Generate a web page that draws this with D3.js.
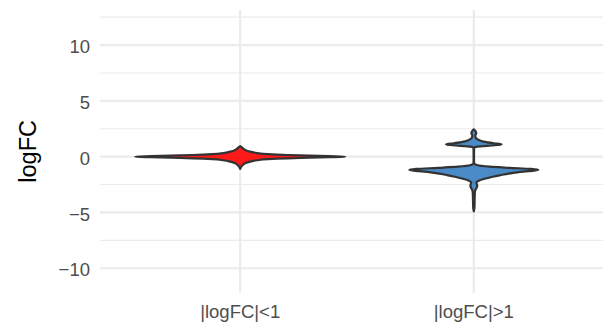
<!DOCTYPE html>
<html>
<head>
<meta charset="utf-8">
<script src="https://cdn.jsdelivr.net/npm/d3@7"></script>
<style>
  html, body { margin: 0; padding: 0; background: #fff; }
  svg { display: block; }
</style>
</head>
<body>
<svg id="chart" width="603" height="323"></svg>
<script>
// ---- data ----
const categories = ["|logFC|<1", "|logFC|>1"];
const fillColors = ["#FF1A1A", "#4A8AC6"];
const yTicks = [-10, -5, 0, 5, 10];
const yMinorTicks = [-7.5, -2.5, 2.5, 7.5, 12.5];

// violin profiles: logFC grid and relative density
const lowLogFC =     [0.95, 0.8, 0.6, 0.45, 0.32, 0.22, 0.15, 0.1, 0.05, 0, -0.05, -0.1, -0.15, -0.22, -0.32, -0.45, -0.6, -0.8, -1.1];
const lowDensity =   [0, 2, 5, 10, 17, 28, 48, 70, 90, 106, 90, 70, 48, 28, 17, 10, 5, 2, 0];

const highLogFC =    [2.45, 2.3, 2.1, 1.9, 1.7, 1.5, 1.35, 1.2, 1.1, 1.0, 0.93, 0.87, 0.8, 0, -0.6, -0.75, -0.9, -1.0, -1.1, -1.2, -1.3, -1.45, -1.65, -1.85, -2.0, -2.15, -2.3, -2.45, -2.6, -2.8, -3.0, -3.3, -4.0, -4.6, -4.9];
const highDensity =  [0, 1.5, 2.5, 1.5, 2, 5, 10, 20, 28, 18, 8, 2, 0.3, 0.2, 0.3, 3, 16, 36, 58, 65, 55, 40, 27, 17, 10, 5, 2.5, 3, 3.5, 2.8, 1.5, 1, 0.8, 0.6, 0];

const violins = [
  { cat: categories[0], v: lowLogFC, d: lowDensity, fill: fillColors[0] },
  { cat: categories[1], v: highLogFC, d: highDensity, fill: fillColors[1] }
];

// ---- layout ----
const svg = d3.select("#chart");
const panel = { left: 100, right: 614, top: 10, bottom: 292.7 };

const x = d3.scalePoint().domain(categories)
  .range([panel.left, panel.right]).padding(0.6);
const y = d3.scaleLinear().domain([-12.19, 13.14]).range([panel.bottom, panel.top]);

const maxD = d3.max(violins, v => d3.max(v.d));
const w = d3.scaleLinear().domain([0, maxD]).range([0, 0.45 * x.step()]);

const g = svg.append("g");

// grid
g.selectAll("line.minor").data(yMinorTicks.filter(t => y(t) >= panel.top && y(t) <= panel.bottom))
  .enter().append("line")
  .attr("x1", panel.left).attr("x2", panel.right)
  .attr("y1", d => y(d)).attr("y2", d => y(d))
  .attr("stroke", "#EBEBEB").attr("stroke-width", 1.1);
g.selectAll("line.major").data(yTicks).enter().append("line")
  .attr("x1", panel.left).attr("x2", panel.right)
  .attr("y1", d => y(d)).attr("y2", d => y(d))
  .attr("stroke", "#EBEBEB").attr("stroke-width", 2.2);
g.selectAll("line.vmajor").data(categories).enter().append("line")
  .attr("x1", d => x(d)).attr("x2", d => x(d))
  .attr("y1", panel.top).attr("y2", panel.bottom)
  .attr("stroke", "#EBEBEB").attr("stroke-width", 2.2);

// violins
violins.forEach(vi => {
  const pts = vi.v.map((val, i) => ({ val, den: vi.d[i] }));
  const area = d3.area()
    .y(p => y(p.val))
    .x0(p => x(vi.cat) - w(p.den))
    .x1(p => x(vi.cat) + w(p.den))
    .curve(d3.curveMonotoneY);
  g.append("path")
    .datum(pts)
    .attr("d", area)
    .attr("fill", vi.fill)
    .attr("stroke", "#333333")
    .attr("stroke-width", 2.2)
    .attr("stroke-linejoin", "round");
});

// axes text
const font = "'Liberation Sans', Arial, Helvetica, sans-serif";
g.selectAll("text.ytick").data(yTicks).enter().append("text")
  .attr("x", 90).attr("y", d => y(d)).attr("dy", "0.44em")
  .attr("text-anchor", "end")
  .attr("font-family", font).attr("font-size", 18.5)
  .attr("fill", "#4D4D4D")
  .text(d => d < 0 ? "\u2212" + Math.abs(d) : d);

g.selectAll("text.xtick").data(categories).enter().append("text")
  .attr("x", d => x(d)).attr("y", 318.3)
  .attr("text-anchor", "middle")
  .attr("font-family", font).attr("font-size", 18.5)
  .attr("fill", "#4D4D4D")
  .text(d => d);

svg.append("text")
  .attr("transform", `translate(35.5,${(panel.top + panel.bottom) / 2}) rotate(-90)`)
  .attr("text-anchor", "middle")
  .attr("font-family", font).attr("font-size", 23.5)
  .attr("fill", "#000")
  .text("logFC");
</script>
</body>
</html>
